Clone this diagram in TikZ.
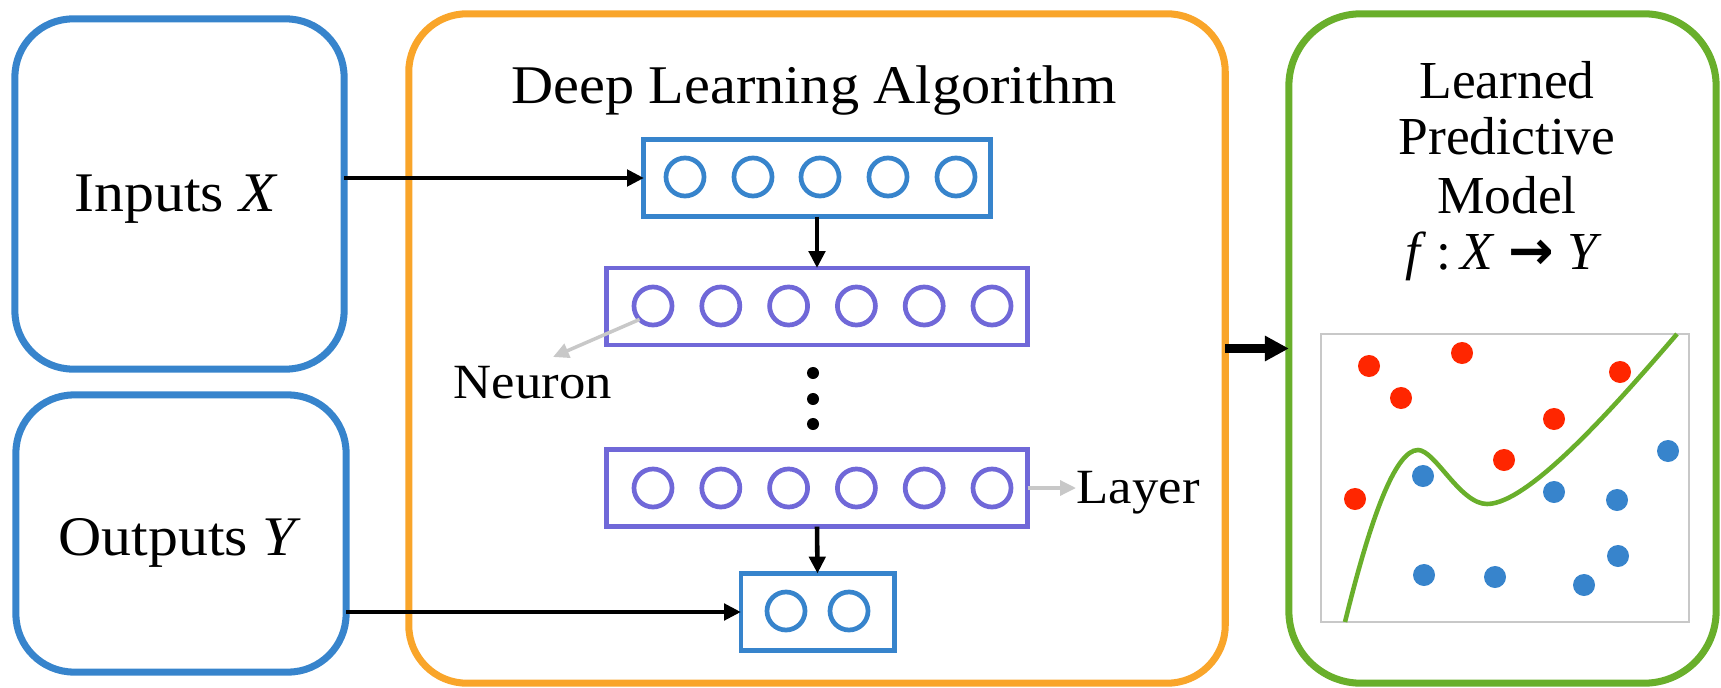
\documentclass[tikz,border=0pt]{standalone}
\usepackage{fontspec}
\setmainfont{Liberation Serif}
\newfontfamily\palfont[FakeStretch=1.07]{Liberation Serif}
\newfontfamily\arrowfont{DejaVu Sans}
\usetikzlibrary{arrows.meta}
\definecolor{cblue}{HTML}{3784CC}
\definecolor{cpurple}{HTML}{7068D8}
\definecolor{corange}{HTML}{F9A52A}
\definecolor{cgreen}{HTML}{69AF2B}
\definecolor{cred}{HTML}{FF2600}
\definecolor{framegray}{HTML}{C8C8C8}
\definecolor{hintgray}{HTML}{C8C8C8}
\begin{document}
\begin{tikzpicture}[x=0.01cm,y=-0.01cm,
  bigbox/.style={draw, line width=2pt, rounded corners=0.58cm, inner sep=0pt, outer sep=0pt},
  layerbox/.style={draw, line width=1.4pt, inner sep=0pt, outer sep=0pt, minimum height=0.77cm},
  neuron/.style={circle, draw, line width=1.34pt, minimum size=0.38cm, inner sep=0pt, outer sep=0pt},
  flow/.style={line width=1.3pt, -{Triangle[length=4.8pt,width=4.6pt]}},
  bigflow/.style={line width=2.28pt, -{Triangle[length=6.8pt,width=6.8pt]}},
  hint/.style={draw=hintgray, line width=1pt, -{Triangle[length=4.5pt,width=4.2pt]}},
  sample/.style={circle, inner sep=0pt, outer sep=0pt, minimum size=0.22cm},
  ell/.style={circle, fill=black, inner sep=0pt, minimum size=0.12cm},
  bigtext/.style={inner sep=0pt, font={\palfont\fontsize{15.9pt}{18pt}\selectfont}},
  titletext/.style={inner sep=0pt, font={\palfont\fontsize{15.5pt}{18pt}\selectfont}},
  smalltext/.style={inner sep=0pt, font={\palfont\fontsize{14pt}{16pt}\selectfont}},
  modeltext/.style={inner sep=0pt, font={\fontsize{15.2pt}{16.2pt}\selectfont}}]

\useasboundingbox (0,0) rectangle (1721,688);

% outer boxes
\node[bigbox, draw=cblue, minimum width=3.29cm, minimum height=3.50cm] (inbox) at (179.5,194) {};
\node[bigbox, draw=cblue, minimum width=3.30cm, minimum height=2.77cm] (outbox) at (181,533.5) {};
\node[bigbox, draw=corange, minimum width=8.16cm, minimum height=6.69cm] (algbox) at (817,348.5) {};
\node[bigbox, draw=cgreen, rounded corners=0.72cm, minimum width=4.27cm, minimum height=6.69cm] (modelbox) at (1502.5,348.5) {};

% texts
\node[bigtext, anchor=base] (intext) at (176,212) {Inputs \textit{X}};
\node[bigtext, anchor=base] (outtext) at (180,555) {Outputs \textit{Y}};
\node[titletext, anchor=base] (title) at (814,104) {Deep Learning Algorithm};
\node[smalltext, anchor=base west] (neurontext) at (453,398) {Neuron};
\node[smalltext, anchor=base west] (layertext) at (1076,503) {Layer};
\node[modeltext, anchor=base] (m1) at (1507,99) {Learned};
\node[modeltext, anchor=base] (m2) at (1507,155) {Predictive};
\node[modeltext, anchor=base] (m3) at (1507,213) {Model};
\node[modeltext, anchor=base] (m4) at (1504,269) {\textit{f}\hspace{0.18em}:\hspace{0.18em}\textit{X} {\arrowfont\bfseries\fontsize{15.5pt}{16pt}\selectfont →} \textit{Y}};

% layers
\node[layerbox, draw=cblue, minimum width=3.46cm] (l1) at (817,178) {};
\foreach \x [count=\i] in {685,753,820,888,956}
  \node[neuron, draw=cblue] (na\i) at (\x,177) {};
\node[layerbox, draw=cpurple, minimum width=4.21cm] (l2) at (817,306.5) {};
\foreach \x [count=\i] in {653,720.8,788.6,856.4,924.2,992}
  \node[neuron, draw=cpurple] (nb\i) at (\x,306) {};
\node[layerbox, draw=cpurple, minimum width=4.21cm] (l3) at (817,488) {};
\foreach \x [count=\i] in {653,720.8,788.6,856.4,924.2,992}
  \node[neuron, draw=cpurple] (nc\i) at (\x,488) {};
\node[layerbox, draw=cblue, minimum width=1.53cm] (l4) at (817.5,612) {};
\foreach \x [count=\i] in {786,849}
  \node[neuron, draw=cblue] (nd\i) at (\x,611) {};

% vertical ellipsis
\node[ell] (e1) at (813,373) {};
\node[ell] (e2) at (813,399) {};
\node[ell] (e3) at (813,424) {};

% connectors
\draw[flow] (inbox.east |- l1.west) -- (l1.west);
\draw[flow] (l1.south) -- (l2.north);
\draw[flow] (l3.south) -- (l4.north);
\draw[flow] (outbox.east |- l4.west) -- (l4.west);
\draw[bigflow] (algbox.east) -- (modelbox.west);

\coordinate (ntip) at (553,357);
\draw[hint] (nb1.south west) -- (ntip);
\draw[hint] (l3.east) -- (l3.east -| layertext.west);

% plot
\node[draw=framegray, line width=0.43pt, minimum width=3.68cm, minimum height=2.88cm, inner sep=0pt, outer sep=0pt] (plot) at (1505,478) {};
\draw[cgreen, line width=1.3pt] (1345,622) .. controls (1370,520) and (1395,450) .. (1418,450)
  .. controls (1435,450) and (1460,504) .. (1487,504)
  .. controls (1530,504) and (1620,400) .. (1677,334);

\foreach \x/\y [count=\i] in {1369/366,1462/353,1401/398,1620/372,1554/419,1504/460,1355/499}
  \node[sample, fill=cred] (r\i) at (\x,\y) {};
\foreach \x/\y [count=\i] in {1423/476,1668/451,1554/492,1617/500,1618/556,1424/575,1495/577,1584/585}
  \node[sample, fill=cblue] (b\i) at (\x,\y) {};
\end{tikzpicture}
\end{document}
